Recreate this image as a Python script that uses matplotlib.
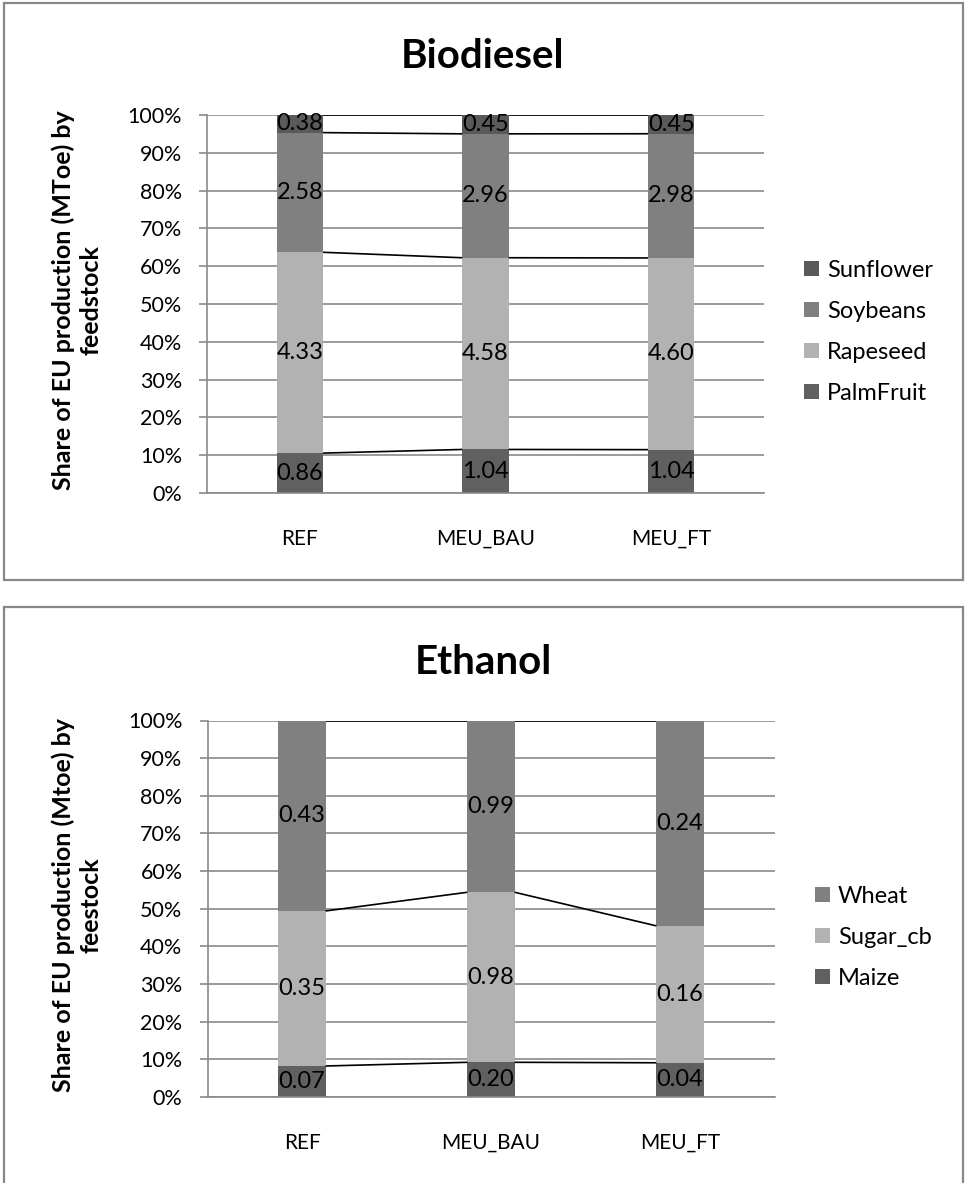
import matplotlib
matplotlib.use("Agg")
import matplotlib.pyplot as plt
from matplotlib.patches import Rectangle, Patch
from matplotlib.ticker import PercentFormatter
import numpy as np

plt.rcParams['font.family'] = ['Lato', 'DejaVu Sans']

# ---- data -------------------------------------------------------------
scenarios = ["REF", "MEU_BAU", "MEU_FT"]

biodiesel_series = ["PalmFruit", "Rapeseed", "Soybeans", "Sunflower"]
palmfruit = [0.86, 1.04, 1.04]
rapeseed = [4.33, 4.58, 4.60]
soybeans = [2.58, 2.96, 2.98]
sunflower = [0.38, 0.45, 0.45]

ethanol_series = ["Maize", "Sugar_cb", "Wheat"]
maize = [0.07, 0.20, 0.04]
sugar_cb = [0.35, 0.98, 0.16]
wheat = [0.43, 0.99, 0.24]

y_ticks = [0, 10, 20, 30, 40, 50, 60, 70, 80, 90, 100]

# ---- styling ----------------------------------------------------------
W, H = 966, 1183
DPI = 100
GRID = "#8a8a8a"
FRAME = "#888888"
biodiesel_colors = ["#606060", "#b2b2b2", "#808080", "#5a5a5a"]
ethanol_colors = ["#606060", "#b2b2b2", "#808080"]


def px_axes(fig, left, top, right, bottom):
    return fig.add_axes([left / W, 1 - bottom / H, (right - left) / W, (bottom - top) / H])


def stacked_share(ax, names, values, colors):
    vals = np.array(values, dtype=float)
    totals = vals.sum(axis=0)
    shares = vals / totals * 100
    x = np.arange(len(scenarios))
    width = 0.25
    base = np.zeros(len(scenarios))
    handles = []
    for name, v, s, c in zip(names, vals, shares, colors):
        ax.bar(x, s, width, bottom=base, color=c, zorder=2, linewidth=0)
        for xi, b, si, vi in zip(x, base, s, v):
            ax.text(xi, b + si / 2, f"{vi:.2f}", ha="center", va="center",
                    fontsize=17, color="black", zorder=4)
        top = base + s
        # series lines joining segment tops of neighbouring bars
        for i in range(len(x) - 1):
            ax.plot([x[i] + width / 2, x[i + 1] - width / 2], [top[i], top[i + 1]],
                    color="black", lw=1.2, zorder=3, solid_capstyle="butt")
        base = top
        handles.append(Patch(facecolor=c, label=name))

    ax.set_xlim(-0.5, len(scenarios) - 0.5)
    ax.set_ylim(0, 100)
    ax.set_yticks(y_ticks)
    ax.yaxis.set_major_formatter(PercentFormatter(decimals=0))
    ax.set_xticks(x)
    ax.set_xticklabels(scenarios)
    ax.yaxis.grid(True, color=GRID, lw=1.2, zorder=0)
    ax.set_axisbelow(True)
    for side in ("top", "right"):
        ax.spines[side].set_visible(False)
    ax.spines["left"].set_color(GRID)
    ax.spines["left"].set_linewidth(1.2)
    ax.spines["bottom"].set_color(GRID)
    ax.spines["bottom"].set_linewidth(1.2)
    ax.tick_params(axis="y", length=6, width=1.2, color=GRID, labelsize=15.5, pad=12,
                   labelcolor="black")
    ax.tick_params(axis="x", length=0, labelsize=15, pad=26, labelcolor="black")
    return handles[::-1]


fig = plt.figure(figsize=(W / DPI, H / DPI), dpi=DPI)

# panel frames
fig.patches.append(Rectangle((4 / W, 1 - 580 / H), 959 / W, 577 / H, transform=fig.transFigure,
                             fill=False, edgecolor=FRAME, lw=1.6))
fig.patches.append(Rectangle((4 / W, -0.05), 959 / W, 1 - 607 / H + 0.05, transform=fig.transFigure,
                             fill=False, edgecolor=FRAME, lw=1.6, clip_on=False))

# Biodiesel panel
ax1 = px_axes(fig, 207, 115, 764, 493)
h1 = stacked_share(ax1, biodiesel_series, [palmfruit, rapeseed, soybeans, sunflower],
                   biodiesel_colors)
fig.text(483 / W, 1 - 57 / H, "Biodiesel", ha="center", va="center",
         fontsize=29, fontweight="bold")
fig.text(77 / W, 1 - 300 / H, "Share of EU production (MToe) by\nfeedstock",
         ha="center", va="center", rotation=90, fontsize=18, fontweight="bold",
         multialignment="center", linespacing=1.2)
fig.legend(handles=h1, loc="center left", bbox_to_anchor=(804 / W, 1 - 332 / H),
           frameon=False, fontsize=17, handlelength=0.62, handleheight=0.62,
           handletextpad=0.35, labelspacing=0.85, borderpad=0, borderaxespad=0)

# Ethanol panel
ax2 = px_axes(fig, 207.5, 720.5, 774.5, 1097)
h2 = stacked_share(ax2, ethanol_series, [maize, sugar_cb, wheat], ethanol_colors)
fig.text(483 / W, 1 - 663 / H, "Ethanol", ha="center", va="center",
         fontsize=29, fontweight="bold")
fig.text(77 / W, 1 - 905 / H, "Share of EU production (Mtoe) by\nfeestock",
         ha="center", va="center", rotation=90, fontsize=18, fontweight="bold",
         multialignment="center", linespacing=1.2)
fig.legend(handles=h2, loc="center left", bbox_to_anchor=(815 / W, 1 - 937.5 / H),
           frameon=False, fontsize=17, handlelength=0.62, handleheight=0.62,
           handletextpad=0.35, labelspacing=0.85, borderpad=0, borderaxespad=0)

fig.savefig("out.png", dpi=DPI, facecolor="white")
